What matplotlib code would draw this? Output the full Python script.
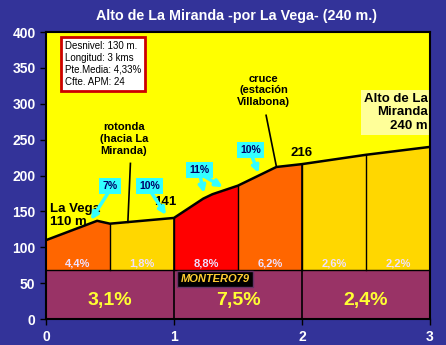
import numpy as np
import matplotlib.pyplot as plt

plt.rcParams['font.family'] = ['Liberation Sans', 'DejaVu Sans']

# perfil del puerto (km, altitud)
km = [0, 0.4, 0.5, 1.0, 1.23, 1.3, 1.5, 1.8, 2.0, 2.5, 3.0]
alt = [110, 137, 133, 141, 168, 174, 186, 212, 216, 229, 240]

# tramos de medio km
tramos = [(0, 0.5), (0.5, 1.0), (1.0, 1.5), (1.5, 2.0), (2.0, 2.5), (2.5, 3.0)]
pend_tramo = ['4,4%', '1,8%', '8,8%', '6,2%', '2,6%', '2,2%']
color_tramo = ['#FF6600', '#FFD700', '#FF0000', '#FF6600', '#FFD700', '#FFD700']

# pendiente media por km
km_medio = [0.5, 1.5, 2.5]
pend_km = ['3,1%', '7,5%', '2,4%']

# rampas máximas: texto, posición de la etiqueta, puntos señalados
rampas = [
    ('7%', (0.5, 185), [(0.34, 135)]),
    ('10%', (0.81, 185), [(0.95, 142)]),
    ('11%', (1.2, 208), [(1.24, 172), (1.40, 182)]),
    ('10%', (1.6, 236), [(1.67, 200)]),
]

banda = 68

fig = plt.figure(figsize=(4.46, 3.45), dpi=100)
fig.patch.set_facecolor('#333399')
ax = fig.add_axes([0.103, 0.075, 0.861, 0.832])
ax.set_facecolor('#FFFF00')

# tramos coloreados
for i, ((a, b), c) in enumerate(zip(tramos, color_tramo)):
    xs = [a] + [k for k in km if a < k < b] + [b]
    ys = np.interp(xs, km, alt)
    ax.fill_between(xs, banda, ys, color=c, lw=0, zorder=2)
    if b < 3:
        ax.plot([b, b], [banda, np.interp(b, km, alt)], color='black', lw=1, zorder=3)
    ax.text((a + b) / 2, 78, pend_tramo[i], ha='center', va='center',
            fontsize=8, fontweight='bold', color='#EEE0FF', zorder=4)

# banda inferior con pendiente por km
ax.fill_between([0, 3], 0, banda, color='#993366', lw=0, zorder=2)
ax.plot([0, 3], [banda, banda], color='black', lw=1, zorder=3)
for k in [1, 2]:
    ax.plot([k, k], [0, np.interp(k, km, alt)], color='black', lw=1.2, zorder=3)
for x, t in zip(km_medio, pend_km):
    ax.text(x, 26, t, ha='center', va='center', fontsize=14, fontweight='bold',
            color='#FFFF33', zorder=4)

ax.plot(km, alt, color='black', lw=1.8, zorder=5)

# rótulos
ax.text(0.03, 145, 'La Vega\n110 m', ha='left', va='center', fontsize=9.5,
        fontweight='bold', color='black', linespacing=1.1, zorder=6)
ax.text(0.61, 251, 'rotonda\n(hacia La\nMiranda)', ha='center', va='center',
        fontsize=8, fontweight='bold', color='black', linespacing=1.2, zorder=6)
ax.plot([0.66, 0.64], [217, 135], color='black', lw=1.2, zorder=6)
ax.text(1.70, 319, 'cruce\n(estación\nVillabona)', ha='center', va='center',
        fontsize=8, fontweight='bold', color='black', linespacing=1.2, zorder=6)
ax.plot([1.72, 1.80], [284, 213], color='black', lw=1.2, zorder=6)
ax.text(0.93, 163, '141', ha='center', va='center', fontsize=9.5, fontweight='bold', zorder=6)
ax.text(2.0, 231, '216', ha='center', va='center', fontsize=9.5, fontweight='bold', zorder=6)
ax.text(2.985, 288, 'Alto de La\nMiranda\n240 m', ha='right', va='center', fontsize=9.5,
        fontweight='bold', color='black', linespacing=1.15, zorder=6,
        bbox=dict(boxstyle='square,pad=0.25', fc='#FFFF99', ec='none'))

ax.text(0.15, 388, 'Desnivel: 130 m.\nLongitud: 3 kms\nPte.Media: 4,33%\nCfte. APM: 24',
        ha='left', va='top', fontsize=7, color='black', linespacing=1.25, zorder=6,
        bbox=dict(boxstyle='square,pad=0.4', fc='white', ec='#CC0000', lw=2))

for t, (tx, ty), puntos in rampas:
    for px, py in puntos:
        ax.annotate('', xy=(px, py), xytext=(tx, ty - 5),
                    arrowprops=dict(arrowstyle='-|>', color='#33FFFF', lw=2.5,
                                    mutation_scale=10), zorder=6)
    ax.text(tx, ty, t, ha='center', va='center', fontsize=7.5, fontweight='bold',
            color='#000066', zorder=7,
            bbox=dict(boxstyle='square,pad=0.3', fc='#33FFFF', ec='none'))

ax.text(1.32, 56, 'MONTERO79', ha='center', va='center', fontsize=8, fontstyle='italic',
        fontweight='bold', color='#FFCC33', zorder=7,
        bbox=dict(boxstyle='square,pad=0.3', fc='black', ec='#663366', lw=1))

ax.set_xlim(0, 3)
ax.set_ylim(0, 400)
ax.set_xticks([0, 1, 2, 3])
ax.set_yticks(range(0, 401, 50))
ax.tick_params(colors='black', labelcolor='white', labelsize=10, length=4, width=1)
for lab in ax.get_xticklabels() + ax.get_yticklabels():
    lab.set_fontweight('bold')
for s in ax.spines.values():
    s.set_color('black')
    s.set_linewidth(1.5)
    s.set_zorder(8)

fig.suptitle('Alto de La Miranda -por La Vega- (240 m.)', x=0.53, y=0.975,
             color='white', fontsize=10.3, fontweight='bold')

fig.savefig('out.png', dpi=100, facecolor=fig.get_facecolor())
